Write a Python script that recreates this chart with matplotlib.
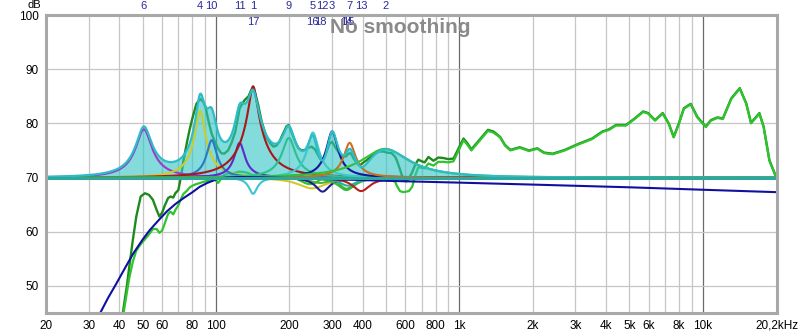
import numpy as np
import matplotlib
matplotlib.use("Agg")
import matplotlib.pyplot as plt
from matplotlib.transforms import blended_transform_factory

plt.rcParams['font.family'] = ['Liberation Sans', 'DejaVu Sans']

# ---------------- data ----------------
# measured (dark green) and predicted (bright green) responses, dB SPL
freq_hz = [40.5, 42, 43, 44, 45.5, 47, 49, 51, 53, 55, 57, 58.5, 60, 61.5, 63.5, 65,
           66.7, 68, 70, 72, 73.5, 76, 78, 80, 83, 86, 88.5, 90.5, 93, 96, 99, 102,
           105, 108, 112, 116, 120, 125, 131, 136, 139, 142, 145, 149, 154, 161, 167,
           172, 177, 182, 188, 195, 199, 205, 212, 218, 225, 232, 240, 247, 255, 262,
           268, 275, 283, 292, 300, 310, 321, 332, 342, 350, 358, 368, 380, 391, 404,
           416, 432, 450, 470, 487, 505, 527, 545, 553, 570, 588, 605, 620, 640, 660,
           678, 700, 720, 746, 782, 820, 860, 900, 946, 1000, 1040, 1080, 1120, 1190,
           1310, 1380, 1470, 1540, 1620, 1770, 1930, 2090, 2230, 2420, 2710, 3080,
           3510, 3870, 4120, 4400, 4840, 5250, 5690, 5970, 6370, 6850, 7250, 7600,
           7980, 8370, 8930, 9500, 10300, 10800, 11500, 12100, 13100, 14200, 15100,
           15800, 17100, 17800, 18800, 20000]
measured_db = [42.0, 47.0, 50.0, 53.6, 58.5, 62.8, 66.5, 67.1, 66.8, 65.9, 64.0, 62.8,
               63.5, 64.8, 66.2, 66.5, 66.3, 67.1, 67.7, 70.5, 73.2, 76.6, 79.0, 81.0,
               83.6, 84.5, 84.0, 83.0, 80.5, 78.0, 76.6, 75.3, 74.5, 74.4, 75.0, 76.5,
               78.5, 82.8, 84.3, 85.0, 86.0, 86.8, 85.5, 83.4, 80.3, 77.5, 76.3, 75.7,
               75.9, 76.6, 78.0, 79.5, 79.7, 78.2, 76.5, 75.4, 75.0, 75.1, 75.5, 75.7,
               75.2, 74.2, 73.4, 73.2, 74.5, 76.2, 76.6, 75.5, 74.5, 73.9, 73.9, 74.4,
               74.5, 73.5, 72.6, 72.3, 72.8, 73.2, 73.8, 74.5, 74.8, 74.8, 74.6, 74.5,
               73.8, 73.2, 71.5, 69.6, 69.3, 69.8, 71.0, 72.5, 73.3, 73.0, 72.8, 73.8,
               73.1, 73.7, 73.6, 73.4, 73.5, 75.7, 77.2, 76.3, 75.2, 76.6, 78.8, 78.5,
               77.5, 76.0, 75.1, 75.6, 75.0, 75.4, 74.6, 74.4, 75.1, 76.2, 77.2, 78.5,
               78.9, 79.7, 79.7, 80.9, 82.2, 81.9, 80.6, 81.9, 80.0, 77.5, 80.0, 82.8,
               83.6, 81.2, 79.4, 80.6, 81.1, 80.9, 84.6, 86.5, 83.7, 80.1, 81.9, 79.4,
               73.2, 70.2]
predicted_db = [41.5, 46.0, 48.8, 51.5, 54.5, 56.5, 57.7, 58.6, 59.5, 60.5, 60.5, 59.8,
                60.2, 61.5, 63.3, 63.7, 63.2, 64.0, 64.9, 66.2, 67.0, 67.6, 68.2, 68.5,
                68.8, 69.0, 69.2, 69.3, 69.4, 69.5, 69.6, 69.0, 69.8, 70.5, 70.8, 70.6,
                70.9, 71.1, 71.0, 70.8, 70.6, 70.4, 70.5, 70.6, 70.4, 70.0, 69.8, 69.9,
                70.1, 70.2, 70.3, 70.4, 70.3, 70.1, 69.9, 69.6, 69.3, 69.0, 68.8, 68.8,
                69.0, 69.3, 69.6, 69.9, 70.1, 70.2, 70.0, 69.5, 68.8, 68.2, 67.9, 68.0,
                68.3, 68.6, 69.0, 69.5, 70.0, 70.2, 70.3, 70.2, 70.0, 69.7, 69.4, 69.5,
                69.2, 68.5, 67.5, 67.3, 67.4, 67.5, 68.3, 70.5, 71.9, 71.8, 71.7, 72.6,
                72.2, 72.9, 72.9, 72.8, 73.0, 75.3, 76.9, 76.0, 75.0, 76.4, 78.6, 78.3,
                77.4, 75.9, 75.0, 75.5, 74.9, 75.3, 74.5, 74.3, 75.0, 76.1, 77.1, 78.4,
                78.8, 79.6, 79.6, 80.8, 82.1, 81.8, 80.5, 81.8, 79.9, 77.4, 79.9, 82.7,
                83.5, 81.1, 79.3, 80.5, 81.0, 80.8, 84.5, 86.4, 83.6, 80.0, 81.8, 79.3,
                73.1, 70.1]

# target curve (dark blue)
target_freq_hz = [31, 33.4, 36, 39, 42, 45.7, 50, 53.4, 58, 62.6, 68, 73.5, 80, 85.7,
                  92, 100.7, 110, 125, 150, 200, 300, 500, 1000, 2000, 5000, 10000, 20200]
target_db = [43.0, 45.0, 47.8, 50.5, 53.1, 56.0, 58.6, 60.3, 62.1, 63.7, 65.1, 66.2,
             67.3, 68.3, 69.0, 69.7, 70.0, 70.1, 70.05, 69.9, 69.7, 69.4, 69.06, 68.7,
             68.2, 67.75, 67.3]

# parametric EQ filters (shown inverted), numbered as on the chart
filter_label = ['6', '4', '10', '11', '1', '17', '9', '5', '16', '18', '12', '3',
                '14', '15', '7', '13', '2']
filter_freq_hz = [50.5, 86, 96, 125, 142, 142, 199, 250, 248, 268, 274, 300,
                  343, 348, 354, 395, 495]
filter_gain_db = [8.9, 12.3, 6.9, 6.4, -3.0, 16.8, 7.3, 8.3, -2.0, -1.0, -2.6, 8.5,
                  -2.3, -1.5, 6.4, -2.5, 5.3]
filter_q = [5, 7, 8, 8, 10, 5.5, 6, 7, 3, 4, 6, 7, 5, 5, 7, 5, 1.8]
filter_color = ['#9a3cc8', '#cccc2c', '#2a78c8', '#5a2cc8', '#3cc4d4', '#a81818',
                '#2cc090', '#3cc8cc', '#d2c830', '#52b040', '#1e1e8c', '#16169a',
                '#3cb43c', '#28b0a8', '#c87020', '#b42020', '#34c034']
filter_row = [0, 0, 0, 0, 0, 1, 0, 0, 1, 1, 0, 0, 1, 1, 0, 0, 0]

x_ticks = [20, 30, 40, 50, 60, 80, 100, 200, 300, 400, 600, 800, 1000, 2000, 3000,
           4000, 5000, 6000, 8000, 10000, 20200]
x_tick_labels = ['20', '30', '40', '50', '60', '80', '100', '200', '300', '400', '600',
                 '800', '1k', '2k', '3k', '4k', '5k', '6k', '8k', '10k', '20,2kHz']
y_ticks = [50, 60, 70, 80, 90, 100]
reference_level_db = 70


def peak_response_db(f, f0, gain, q):
    w = f / f0
    a = 10 ** (gain / 40.0)
    re = 1 - w ** 2
    num = re ** 2 + (w * a / q) ** 2
    den = re ** 2 + (w / (a * q)) ** 2
    return 10 * np.log10(num / den)


# ---------------- figure ----------------
fig = plt.figure(figsize=(8.0, 3.34), dpi=100)
ax = fig.add_axes([46 / 800, 1 - 313 / 334, 731 / 800, 298 / 334])
ax.set_xscale('log')
ax.set_xlim(20, 20200)
ax.set_ylim(45, 100)

# grid
minor_lines = [30, 40, 50, 60, 70, 80, 90, 200, 300, 400, 500, 600, 700, 800, 900,
               2000, 3000, 4000, 5000, 6000, 7000, 8000, 9000]
for xv in minor_lines:
    ax.axvline(xv, color='#c6c6c6', lw=0.9, zorder=0)
for xv in [100, 1000, 10000]:
    ax.axvline(xv, color='#6a6a6a', lw=0.9, zorder=0)
for yv in [50, 60, 70, 80, 90]:
    ax.axhline(yv, color='#c6c6c6', lw=0.9, zorder=0)

f_fine = np.geomspace(20, 20200, 2400)
resp = [peak_response_db(f_fine, f0, g, q)
        for f0, g, q in zip(filter_freq_hz, filter_gain_db, filter_q)]
combined = reference_level_db + np.sum(resp, axis=0)

# measured and predicted
ax.plot(freq_hz, measured_db, color='#1e8a1e', lw=1.7, zorder=2)
ax.plot(freq_hz, predicted_db, color='#2ec42e', lw=1.6, zorder=2.1)

# combined filter response, filled
ax.fill_between(f_fine, reference_level_db, combined, where=combined > reference_level_db,
                interpolate=True, color='#30c4c4', alpha=0.6, lw=0, zorder=3)

for r, c in zip(resp, filter_color):
    ax.plot(f_fine, reference_level_db + r, color=c, lw=1.5, zorder=4)

ax.plot(f_fine, np.maximum(combined, reference_level_db), color='#2ebcc8', lw=1.6, zorder=4.5)

ax.plot(target_freq_hz, target_db, color='#1010a0', lw=1.5, zorder=5)
ax.axhline(reference_level_db, color='#2ea89c', lw=2.2, zorder=6)

# filter numbers
trans = blended_transform_factory(ax.transData, ax.transAxes)
for lab, f0, row in zip(filter_label, filter_freq_hz, filter_row):
    yy = 1.030 if row == 0 else 0.976
    ax.text(f0, yy, lab, transform=trans, ha='center', va='center', fontsize=8,
            color='#2a2a9a', zorder=8, clip_on=False)

ax.text(0.3885, 0.958, 'No smoothing', transform=ax.transAxes, ha='left', va='center',
        fontsize=15, fontweight='bold', color='#8a8a8a', zorder=9)

# axes styling
ax.set_xticks(x_ticks)
ax.set_xticklabels(x_tick_labels)
ax.xaxis.set_minor_locator(matplotlib.ticker.NullLocator())
ax.set_yticks(y_ticks)
ax.set_yticklabels([str(v) for v in y_ticks])
ax.tick_params(axis='both', length=0, labelsize=8.5, colors='#000000')
ax.tick_params(axis='x', pad=5)
ax.tick_params(axis='y', pad=5)
for s in ax.spines.values():
    s.set_color('#a8a8a8')
    s.set_linewidth(2.2)
    s.set_zorder(10)
ax.text(-0.016, 1.0487, 'dB', transform=ax.transAxes, ha='center', va='top',
        fontsize=8, color='#000000')

fig.savefig('out.png', dpi=100, facecolor='white')
